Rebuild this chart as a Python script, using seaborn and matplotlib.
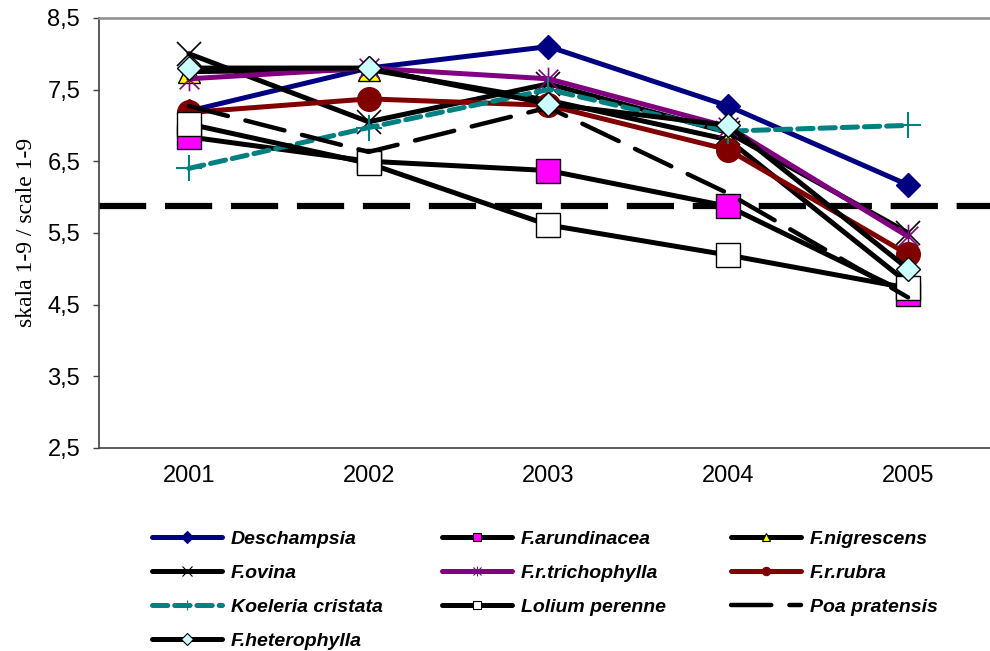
import numpy as np
import pandas as pd
import matplotlib
matplotlib.use('Agg')
import matplotlib.pyplot as plt
import seaborn as sns
from matplotlib.lines import Line2D
from matplotlib.path import Path

# dane
years = ['2001', '2002', '2003', '2004', '2005']
deschampsia = [7.2, 7.8, 8.1, 7.27, 6.17]
f_arundinacea = [6.84, 6.5, 6.37, 5.87, 4.65]
f_nigrescens = [7.75, 7.78, 7.35, 6.8, 4.8]
f_ovina = [8.0, 7.05, 7.58, 6.9, 5.5]
f_trichophylla = [7.65, 7.8, 7.65, 6.98, 5.45]
f_rubra = [7.18, 7.37, 7.28, 6.66, 5.2]
koeleria = [6.4, 6.97, 7.5, 6.92, 7.0]
lolium = [7.02, 6.47, 5.61, 5.19, 4.73]
poa = [7.27, 6.63, 7.25, 6.05, 4.6]
f_heterophylla = [7.8, 7.8, 7.3, 7.0, 5.0]
poziom = 5.88  # linia pozioma

sns.set_style('white')
plt.rcParams['font.family'] = ['Liberation Sans', 'DejaVu Sans']
plt.rcParams['lines.scale_dashes'] = False
plt.rcParams['text.color'] = 'black'
plt.rcParams['axes.labelcolor'] = 'black'

# gwiazdka excelowa (x + pionowa kreska)
star = Path([(-1, -1), (1, 1), (-1, 1), (1, -1), (0, -1.2), (0, 1.2)],
            [Path.MOVETO, Path.LINETO] * 3)

series = [
    ('Deschampsia', deschampsia, dict(color='#000080', marker='D', ms=12, mfc='#000080', mec='#000080', mew=1)),
    ('F.arundinacea', f_arundinacea, dict(color='black', marker='s', ms=17, mfc='#FF00FF', mec='black', mew=1)),
    ('F.nigrescens', f_nigrescens, dict(color='black', marker='^', ms=16, mfc='#FFFF00', mec='black', mew=1)),
    ('F.ovina', f_ovina, dict(color='black', marker='x', ms=17, mfc='none', mec='black', mew=1.2)),
    ('F.r.trichophylla', f_trichophylla, dict(color='#800080', marker=star, ms=17, mfc='none', mec='#800080', mew=1.2)),
    ('F.r.rubra', f_rubra, dict(color='#800000', marker='o', ms=17, mfc='#800000', mec='#800000', mew=1)),
    ('Koeleria cristata', koeleria, dict(color='#008080', marker='+', ms=19, mfc='none', mec='#008080', mew=1.5,
                                         linestyle=(0, (11, 5)))),
    ('Lolium perenne', lolium, dict(color='black', marker='s', ms=17, mfc='white', mec='black', mew=1)),
    ('Poa pratensis', poa, dict(color='black', marker='', linestyle=(0, (29, 13)), lw=3.2)),
    ('F.heterophylla', f_heterophylla, dict(color='black', marker='D', ms=12, mfc='#CCFFFF', mec='black', mew=1)),
]

fig = plt.figure(figsize=(9.9, 6.51), dpi=100)
ax = fig.add_axes([0.1, 0.312, 0.908, 0.6605])

x = np.arange(len(years))
for name, vals, st in series:
    kw = dict(st)
    kw.setdefault('lw', 3.6)
    df = pd.DataFrame({'rok': x, 'wartosc': vals})
    sns.lineplot(data=df, x='rok', y='wartosc', ax=ax, legend=False, sort=False,
                 solid_capstyle='round', dash_capstyle='round', **kw)

ax.axhline(poziom, color='black', lw=4.5, linestyle=(0, (34, 13.5)), zorder=1)

ax.set_xlim(-0.5, 4.5)
ax.set_ylim(2.5, 8.5)
ax.set_xticks(x)
ax.set_xticklabels(years)
ax.set_xticks(np.arange(-0.5, 5, 1), minor=True)
ax.tick_params(axis='x', which='major', length=0, pad=12, labelsize=17, labelcolor='black')
ax.tick_params(axis='x', which='minor', length=4.5, width=1, color='#404040', direction='out')
yt = np.arange(2.5, 8.6, 1)
ax.set_yticks(yt)
ax.set_yticklabels([f'{v:.1f}'.replace('.', ',') for v in yt])
ax.tick_params(axis='y', length=4.5, width=1, color='#404040', direction='out', pad=9,
               labelsize=17, labelcolor='black', left=True)
ax.set_xlabel('')
ax.set_ylabel('skala 1-9 / scale 1-9', family='Liberation Serif', fontsize=17)
ax.yaxis.set_label_coords(-0.069, 0.5)

for s in ['left', 'bottom']:
    ax.spines[s].set_color('#404040')
    ax.spines[s].set_linewidth(1.2)
ax.spines['top'].set_color('#8c8c8c')
ax.spines['top'].set_linewidth(1.8)
ax.spines['right'].set_visible(False)

# legenda w trzech kolumnach
def uchwyt(st):
    kw = dict(st)
    kw.setdefault('lw', 3.6)
    if 'ms' in kw:
        kw['ms'] = 6 if kw['marker'] not in ('x', '+') and kw['marker'] is not star else 7
        kw['mew'] = 0.8
    return Line2D([], [], solid_capstyle='round', dash_capstyle='round', **kw)

kolumny = [[0, 3, 6, 9], [1, 4, 7], [2, 5, 8]]
xpos = [152, 442, 731]
for kol, xp in zip(kolumny, xpos):
    h = [uchwyt(series[i][2]) for i in kol]
    l = [series[i][0] for i in kol]
    leg = fig.legend(h, l, loc='upper left', bbox_to_anchor=(xp / 990, 1 - 530 / 651),
                     frameon=False, borderpad=0, borderaxespad=0, handlelength=3.6,
                     handletextpad=0.45, labelspacing=0.85,
                     prop=dict(family='Liberation Sans', weight='bold', style='italic', size=14))

fig.savefig('out.png', dpi=100)
